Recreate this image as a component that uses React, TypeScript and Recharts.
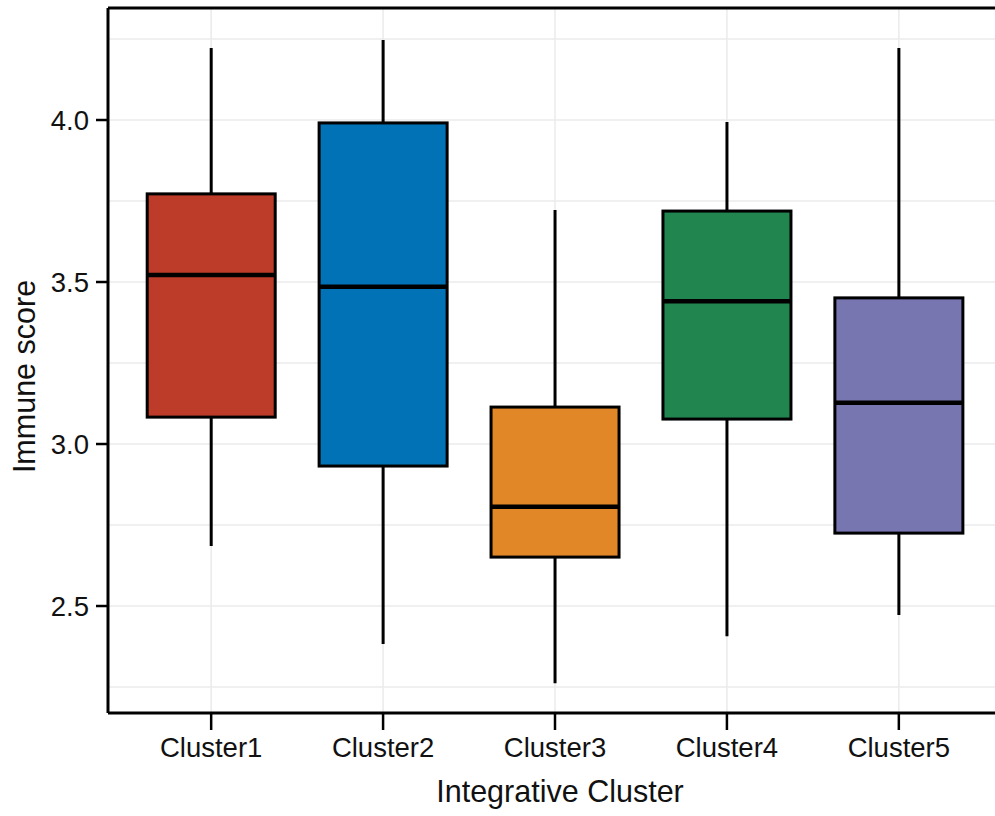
import React from 'react';
import { ComposedChart, Bar, XAxis, YAxis, CartesianGrid, ReferenceLine } from 'recharts';

const categories = ['Cluster1', 'Cluster2', 'Cluster3', 'Cluster4', 'Cluster5'];
const whiskerLow = [2.685, 2.383, 2.262, 2.407, 2.472];
const q1Values = [3.083, 2.932, 2.651, 3.077, 2.725];
const medianValues = [3.522, 3.485, 2.806, 3.441, 3.127];
const q3Values = [3.772, 3.991, 3.114, 3.719, 3.451];
const whiskerHigh = [4.222, 4.247, 3.722, 3.994, 4.222];
const boxColors = ['#BC3C29', '#0072B5', '#E18727', '#20854E', '#7876B1'];

const yTicks = [2.5, 3.0, 3.5, 4.0];
const yMinorTicks = [2.25, 2.75, 3.25, 3.75, 4.25];
const yDomain: [number, number] = [2.1698, 4.3457];
const allYTicks = [...yTicks, ...yMinorTicks].sort((a, b) => a - b);

const FONT = '"Liberation Sans", Arial, Helvetica, sans-serif';
const Y_TICK_SIZE = 12;
const Y_TICK_MARGIN = 7;

const data = categories.map((name, i) => ({
  name,
  range: [whiskerLow[i], whiskerHigh[i]],
  low: whiskerLow[i],
  q1: q1Values[i],
  median: medianValues[i],
  q3: q3Values[i],
  high: whiskerHigh[i],
  color: boxColors[i],
}));

const BoxShape = (props: any) => {
  const { x, y, width, height, payload } = props;
  if (!payload || x == null || y == null) return null;
  const top = Math.min(y, y + height);
  const bottom = Math.max(y, y + height);
  const hi = payload.high;
  const lo = payload.low;
  const pix = (v: number) => top + ((hi - v) / (hi - lo)) * (bottom - top);
  const cx = x + width / 2;
  const yQ3 = pix(payload.q3);
  const yQ1 = pix(payload.q1);
  const yMed = pix(payload.median);
  return (
    <g>
      <line x1={cx} x2={cx} y1={pix(hi)} y2={pix(lo)} stroke="#000" strokeWidth={3} />
      <rect x={x} y={yQ3} width={width} height={yQ1 - yQ3} fill={payload.color} stroke="#000" strokeWidth={3} />
      <line x1={x} x2={x + width} y1={yMed} y2={yMed} stroke="#000" strokeWidth={4.5} />
    </g>
  );
};

const YTick = (props: any) => {
  const { x, y, payload } = props;
  const v = payload && payload.value;
  if (!yTicks.includes(v)) return null;
  return (
    <g>
      <line x1={x + Y_TICK_MARGIN} x2={x + Y_TICK_MARGIN + Y_TICK_SIZE} y1={y} y2={y} stroke="#000" strokeWidth={2.5} />
      <text x={x} y={y} dy="0.355em" textAnchor="end" fontSize={27.5} fontFamily={FONT} fill="#111">
        {Number(v).toFixed(1)}
      </text>
    </g>
  );
};

const XTitle = (props: any) => {
  const vb = props.viewBox || {};
  const cx = vb.x + vb.width / 2 + 5;
  const by = vb.y + vb.height - 14;
  return (
    <text x={cx} y={by} textAnchor="middle" fontSize={30.5} fontFamily={FONT} fill="#111">
      Integrative Cluster
    </text>
  );
};

const YTitle = (props: any) => {
  const vb = props.viewBox || {};
  const cy = vb.y + vb.height / 2 + 16;
  return (
    <text transform={`translate(35, ${cy}) rotate(-90)`} x={0} y={0} textAnchor="middle" fontSize={30.5} fontFamily={FONT} fill="#111">
      Immune score
    </text>
  );
};

export default function App() {
  return (
    <div style={{ position: 'absolute', left: 0, top: 0, width: 995, height: 816, overflow: 'hidden', background: '#fff' }}>
      <ComposedChart width={1010} height={816} data={data} margin={{ top: 8, right: 8, left: 0, bottom: 0 }}>
        <CartesianGrid stroke="#ebebeb" strokeWidth={1.5} vertical horizontal />
        <XAxis
          dataKey="name"
          interval={0}
          padding={{ left: 17.2, right: 17.2 }}
          height={103}
          tickSize={17}
          tickMargin={7}
          axisLine={{ stroke: '#000', strokeWidth: 3 }}
          tickLine={{ stroke: '#000', strokeWidth: 2.5 }}
          tick={{ fontSize: 27.5, fill: '#111', fontFamily: FONT }}
          label={<XTitle />}
        />
        <YAxis
          type="number"
          domain={yDomain}
          allowDataOverflow
          ticks={allYTicks}
          interval={0}
          width={108}
          tickSize={Y_TICK_SIZE}
          tickMargin={Y_TICK_MARGIN}
          axisLine={{ stroke: '#000', strokeWidth: 3 }}
          tickLine={false}
          tick={<YTick />}
          label={<YTitle />}
        />
        <Bar dataKey="range" barSize={128} shape={BoxShape} isAnimationActive={false} />
        <ReferenceLine y={yDomain[1]} stroke="#000" strokeWidth={3} ifOverflow="visible" />
      </ComposedChart>
    </div>
  );
}
